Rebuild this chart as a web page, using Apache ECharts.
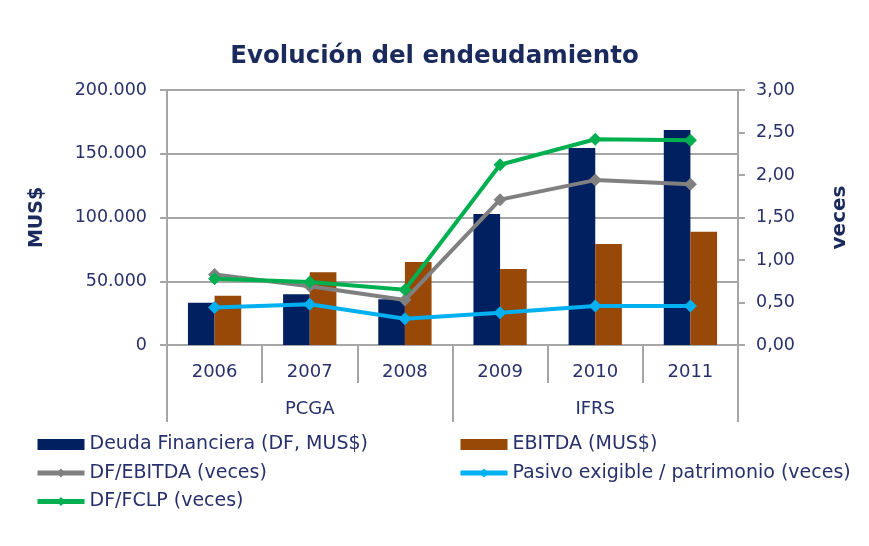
<!DOCTYPE html>
<html>
<head>
<meta charset="utf-8">
<script src="https://cdn.jsdelivr.net/npm/echarts@6/dist/echarts.min.js"></script>
<style>
  html, body { margin: 0; padding: 0; background: #fff; }
  #chart { width: 869px; height: 546px; }
</style>
</head>
<body>
<div id="chart"></div>
<script>
// datos
var years = ['2006', '2007', '2008', '2009', '2010', '2011']
var groups = ['PCGA', 'IFRS']
var deudaFinanciera = [33200, 39800, 35800, 102700, 154500, 168600]
var ebitda = [38700, 57000, 65100, 59600, 79200, 88900]
var dfEbitda = [0.83, 0.69, 0.53, 1.71, 1.94, 1.89]
var pasivoPatrimonio = [0.44, 0.48, 0.31, 0.38, 0.46, 0.46]
var dfFclp = [0.78, 0.74, 0.65, 2.12, 2.42, 2.41]

var txt = '#28306c'
var gridGray = '#a6a6a6'
var font = 'DejaVu Sans'

let myChart = echarts.init(document.getElementById('chart'))

function miles (v) {
  return v === 0 ? '0' : (v / 1000).toFixed(0) + '.000'
}

let legendBase = {
  orient: 'vertical',
  itemWidth: 47,
  itemHeight: 11,
  itemGap: 9.5,
  padding: 0,
  lineStyle: { width: 5 },
  textStyle: { color: txt, fontSize: 19, fontFamily: font }
}

myChart.setOption({
  title: {
    text: 'Evolución del endeudamiento',
    left: 'center',
    top: 39,
    textStyle: { color: '#1b2a5c', fontSize: 24.5, fontWeight: 'bold', fontFamily: font }
  },
  legend: [
    Object.assign({}, legendBase, { left: 35, top: 435, data: [{ name: 'Deuda Financiera (DF, MUS$)', icon: 'rect' }, 'DF/EBITDA (veces)', 'DF/FCLP (veces)'] }),
    Object.assign({}, legendBase, { left: 458, top: 435, data: [{ name: 'EBITDA (MUS$)', icon: 'rect' }, 'Pasivo exigible / patrimonio (veces)'] })
  ],
  grid: { left: 167, right: 131, top: 90, bottom: 201 },
  xAxis: [
    {
      type: 'category',
      data: years,
      position: 'bottom',
      axisLine: { lineStyle: { color: gridGray, width: 2 } },
      axisTick: { show: true, length: 38, lineStyle: { color: gridGray, width: 2 } },
      axisLabel: { color: txt, fontSize: 18, fontFamily: font, margin: 18 }
    },
    {
      type: 'category',
      data: groups,
      position: 'bottom',
      offset: 0,
      axisLine: { show: false },
      axisTick: { show: true, length: 77, lineStyle: { color: gridGray, width: 2 } },
      axisLabel: { color: txt, fontSize: 18, fontFamily: font, margin: 55 }
    }
  ],
  yAxis: [
    {
      type: 'value',
      min: 0,
      max: 200000,
      interval: 50000,
      name: 'MUS$',
      nameLocation: 'middle',
      nameGap: 120,
      nameRotate: 90,
      nameTextStyle: { color: '#1b2a5c', fontSize: 19, fontWeight: 'bold', fontFamily: font },
      axisLine: { show: true, lineStyle: { color: gridGray, width: 2 } },
      axisTick: { show: true, length: 7, lineStyle: { color: gridGray, width: 2 } },
      axisLabel: { color: txt, fontSize: 17.5, fontFamily: font, margin: 20, formatter: miles },
      splitLine: { lineStyle: { color: gridGray, width: 2 } }
    },
    {
      type: 'value',
      min: 0,
      max: 3,
      interval: 0.5,
      name: 'veces',
      nameLocation: 'middle',
      nameGap: 92,
      nameRotate: 90,
      nameTextStyle: { color: '#1b2a5c', fontSize: 20, fontWeight: 'bold', fontFamily: font },
      axisLine: { show: true, lineStyle: { color: gridGray, width: 2 } },
      axisTick: { show: true, length: 7, lineStyle: { color: gridGray, width: 2 } },
      axisLabel: { color: txt, fontSize: 17.5, fontFamily: font, margin: 18, formatter: function (v) { return v.toFixed(2).replace('.', ',') } },
      splitLine: { show: false }
    }
  ],
  series: [
    {
      name: 'Deuda Financiera (DF, MUS$)',
      type: 'bar',
      yAxisIndex: 0,
      barGap: '0%',
      barCategoryGap: '44%',
      itemStyle: { color: '#002060' },
      data: deudaFinanciera
    },
    {
      name: 'EBITDA (MUS$)',
      type: 'bar',
      yAxisIndex: 0,
      barGap: '0%',
      barCategoryGap: '44%',
      itemStyle: { color: '#984807' },
      data: ebitda
    },
    {
      name: 'DF/EBITDA (veces)',
      type: 'line',
      yAxisIndex: 1,
      symbol: 'diamond',
      symbolSize: 13,
      lineStyle: { color: '#808080', width: 4 },
      itemStyle: { color: '#808080' },
      data: dfEbitda
    },
    {
      name: 'Pasivo exigible / patrimonio (veces)',
      type: 'line',
      yAxisIndex: 1,
      symbol: 'diamond',
      symbolSize: 13,
      lineStyle: { color: '#00b0f0', width: 4 },
      itemStyle: { color: '#00b0f0' },
      data: pasivoPatrimonio
    },
    {
      name: 'DF/FCLP (veces)',
      type: 'line',
      yAxisIndex: 1,
      symbol: 'diamond',
      symbolSize: 13,
      lineStyle: { color: '#00b050', width: 4 },
      itemStyle: { color: '#00b050' },
      data: dfFclp
    }
  ]
})
</script>
</body>
</html>
